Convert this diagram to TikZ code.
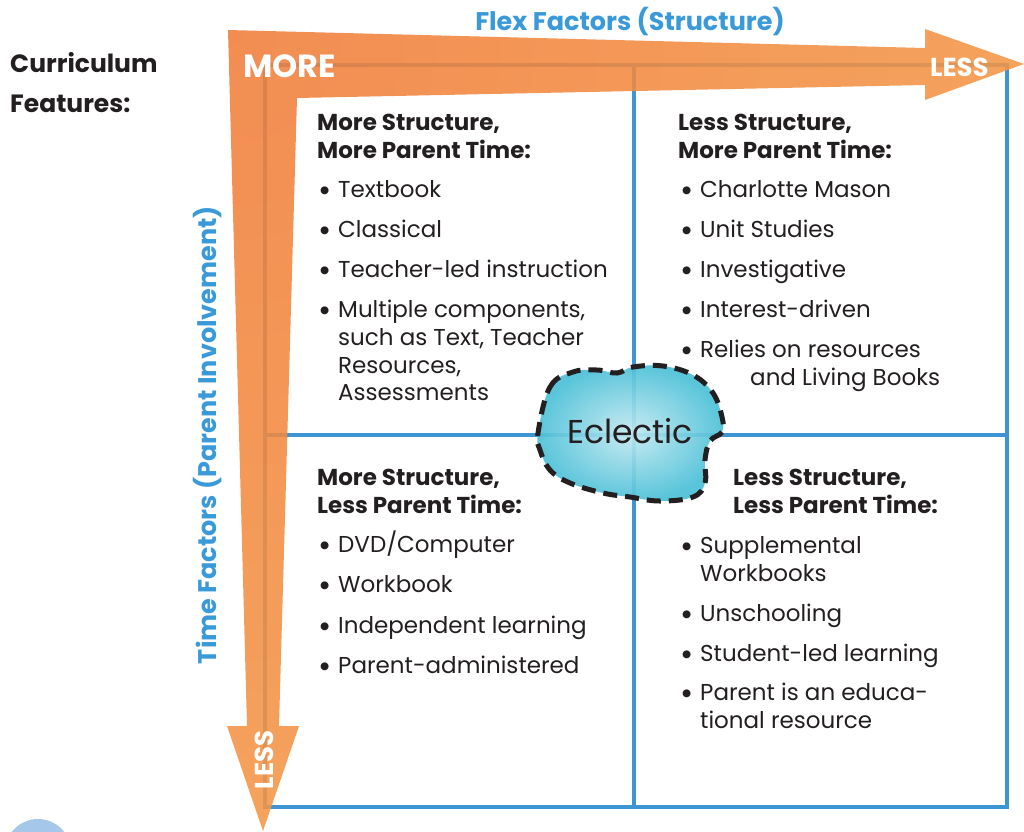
\documentclass[tikz,border=0pt]{standalone}
\usepackage{fontspec}
\setmainfont{Poppins}
\definecolor{orD}{HTML}{F07D3A}
\definecolor{orL}{HTML}{F7AA50}
\definecolor{gridblue}{HTML}{3D96D3}
\definecolor{txtblue}{HTML}{3A9AD9}
\definecolor{ink}{HTML}{231F20}
\definecolor{cloudin}{HTML}{C4E9F1}
\definecolor{cloudout}{HTML}{4CC0D7}
\definecolor{dotblue}{HTML}{A5C7E9}
\newcommand\bul{\makebox[20pt][l]{\raisebox{-4pt}{\fontsize{32}{32}\selectfont\textbullet}}}
\tikzset{
  gridline/.style={draw=gridblue, line width=4pt},
  body/.style={inner sep=0pt, anchor=base west, text=ink, font=\fontsize{23}{27}\selectfont},
  head/.style={inner sep=0pt, anchor=base west, text=ink, font=\fontsize{23}{27}\selectfont\bfseries},
  axislbl/.style={inner sep=0pt, text=txtblue, font=\fontsize{25.5}{30}\selectfont\bfseries},
  arrowlbl/.style={inner sep=0pt, text=white, font=\fontsize{26}{30}\selectfont\bfseries},
}
\begin{document}
\begin{tikzpicture}[x=1pt,y=-1pt]
\useasboundingbox (0,0) rectangle (1024,831);
% small circle bottom-left
\fill[dotblue] (38,852) circle (33pt);
% grid
\draw[gridline] (265,65) rectangle (1007,807);
\draw[gridline] (634,65) -- (634,807);
\draw[gridline] (265,435) -- (1007,435);
% orange L arrows
\begin{scope}
\clip (228,30) -- (925,48) -- (925,29) -- (1024,64) -- (925,100) -- (925,85)
  -- (297,98) -- (279,726) -- (299,726) -- (263,831) -- (227,726) -- (247,726) -- cycle;
\shade[inner color=orD, outer color=orL, fill opacity=0.88] (228,30) circle (1450pt);
\end{scope}
% axis labels
\node[axislbl] (flex) at (630,22) {Flex Factors (Structure)};
\node[axislbl, rotate=90] (time) at (208,435) {Time Factors (Parent Involvement)};
\node[arrowlbl, anchor=base west, font=\fontsize{32}{36}\selectfont\bfseries] (more) at (243,77) {MORE};
\node[arrowlbl, anchor=base west] (lessh) at (930,76) {LESS};
\node[arrowlbl, rotate=90] (lessv) at (264,760) {LESS};
\node[inner sep=0pt, anchor=base west, text=ink, font=\fontsize{25}{29}\selectfont\bfseries] (cf1) at (10,72) {Curriculum};
\node[inner sep=0pt, anchor=base west, text=ink, font=\fontsize{25}{29}\selectfont\bfseries] (cf2) at (10,112) {Features:};
% top-left quadrant
\node[head] (tlh1) at (317,130) {More Structure,};
\node[head] (tlh2) at (317,158) {More Parent Time:};
\node[body] (tl1) at (318,197) {\bul Textbook};
\node[body] (tl2) at (318,237) {\bul Classical};
\node[body] (tl3) at (318,277) {\bul Teacher-led instruction};
\node[body] (tl4) at (318,317) {\bul Multiple components,};
\node[body] (tl4b) at (338,345) {such as Text, Teacher};
\node[body] (tl4c) at (338,373) {Resources,};
\node[body] (tl4d) at (338,400) {Assessments};
% top-right quadrant
\node[head] (trh1) at (678,130) {Less Structure,};
\node[head] (trh2) at (678,158) {More Parent Time:};
\node[body] (tr1) at (680,197) {\bul Charlotte Mason};
\node[body] (tr2) at (680,237) {\bul Unit Studies};
\node[body] (tr3) at (680,277) {\bul Investigative};
\node[body] (tr4) at (680,317) {\bul Interest-driven};
\node[body] (tr5) at (680,357) {\bul Relies on resources};
\node[body] (tr5b) at (750,385) {and Living Books};
% bottom-left quadrant
\node[head] (blh1) at (317,485) {More Structure,};
\node[head] (blh2) at (317,513) {Less Parent Time:};
\node[body] (bl1) at (318,552) {\bul DVD/Computer};
\node[body] (bl2) at (318,592) {\bul Workbook};
\node[body] (bl3) at (318,633) {\bul Independent learning};
\node[body] (bl4) at (318,673) {\bul Parent-administered};
% bottom-right quadrant
\node[head] (brh1) at (733,485) {Less Structure,};
\node[head] (brh2) at (733,513) {Less Parent Time:};
\node[body] (br1) at (680,553) {\bul Supplemental};
\node[body] (br1b) at (700,581) {Workbooks};
\node[body] (br2) at (680,621) {\bul Unschooling};
\node[body] (br3) at (680,661) {\bul Student-led learning};
\node[body] (br4) at (680,700) {\bul Parent is an educa-};
\node[body] (br4b) at (700,728) {tional resource};
% cloud
\path[shade, inner color=cloudin, outer color=cloudout, fill opacity=0.92]
  plot[smooth cycle, tension=0.65] coordinates {(538,433) (550,387) (573,372) (597,370) (617,373) (633,367) (663,366) (693,375) (713,393) (722,417) (722,432) (710,441) (705,460) (705,483) (693,497) (660,501) (630,497) (603,493) (570,483) (550,470) (540,450)};
\draw[ink, line width=5pt, dash pattern=on 14pt off 8pt]
  plot[smooth cycle, tension=0.65] coordinates {(538,433) (550,387) (573,372) (597,370) (617,373) (633,367) (663,366) (693,375) (713,393) (722,417) (722,432) (710,441) (705,460) (705,483) (693,497) (660,501) (630,497) (603,493) (570,483) (550,470) (540,450)};
\node[inner sep=0pt, anchor=base, text=ink, font=\fontsize{33}{38}\selectfont] (eclectic) at (630,443) {Eclectic};
\end{tikzpicture}
\end{document}
